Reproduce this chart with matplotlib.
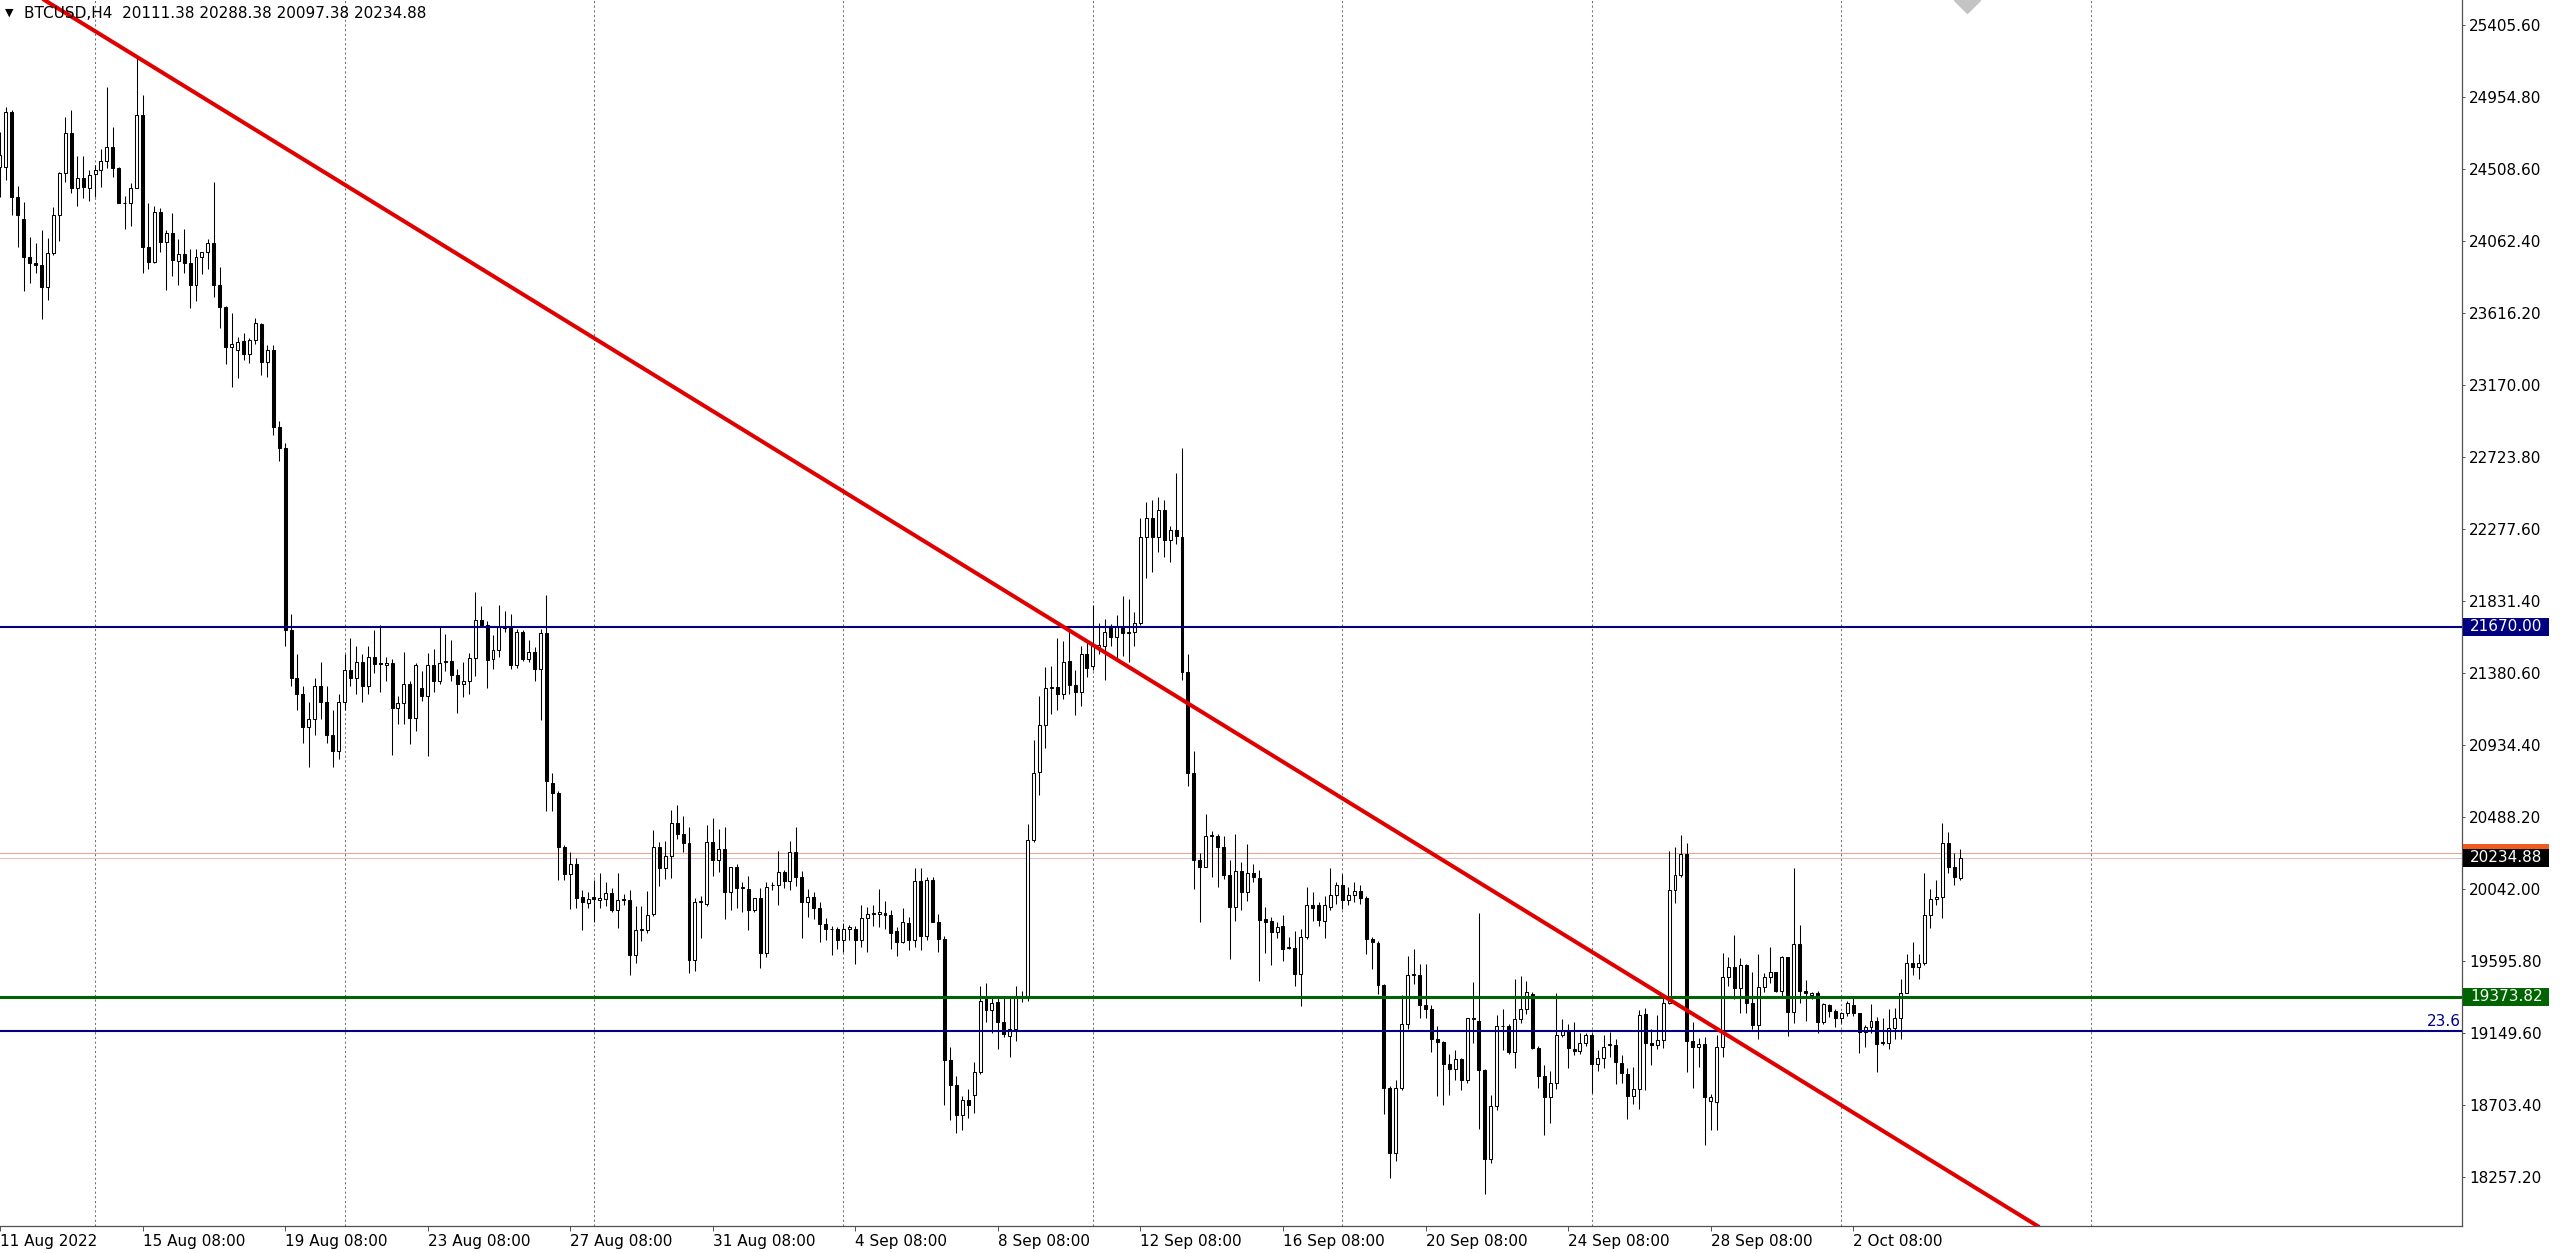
import numpy as np
import pandas as pd
import matplotlib
matplotlib.use("Agg")
import matplotlib.pyplot as plt
from matplotlib.patches import Rectangle
from matplotlib.transforms import blended_transform_factory

plt.rcParams['font.family'] = ['DejaVu Sans']

# --- data -------------------------------------------------------------
symbol = "BTCUSD,H4"
first_bar = "2022-08-11 08:00"   # H4 bars, one every 4 hours

opens = [
    24525, 24525, 24866, 24339, 24198, 23966, 23925, 23915, 23780, 23987,
    24225, 24488, 24731, 24394, 24452, 24394, 24479, 24504, 24560, 24649,
    24519, 24301, 24297, 24394, 24845, 24024, 23935, 24245, 24059, 24111,
    23941, 23983, 23925, 23790, 23966, 23995, 24053, 23790, 23652, 23404,
    23387, 23445, 23362, 23449, 23548, 23315, 23387, 22907, 22777, 21650,
    21350, 21250, 21050, 21100, 21300, 21200, 21000, 20900, 21200, 21400,
    21350, 21450, 21300, 21480, 21447, 21434, 21447, 21164, 21194, 21317,
    21103, 21287, 21243, 21434, 21331, 21451, 21459, 21370, 21312, 21331,
    21478, 21712, 21680, 21471, 21527, 21667, 21667, 21434, 21636, 21471,
    21513, 21410, 21631, 20703, 20637, 20301, 20134, 20195, 19992, 19957,
    19992, 19974, 19982, 20016, 19913, 19974, 19974, 19631, 19790, 19785,
    19888, 20305, 20171, 20244, 20453, 20384, 20325, 19599, 19962, 19950,
    20335, 20220, 20293, 20023, 20178, 20048, 20041, 19913, 19987, 19643,
    20065, 20065, 20146, 20089, 20269, 20115, 19959, 19992, 19927, 19823,
    19791, 19791, 19726, 19797, 19797, 19726, 19861, 19888, 19888, 19894,
    19878, 19781, 19716, 19830, 19726, 20089, 19748, 20096, 19836, 19732,
    18979, 18823, 18640, 18733, 18765, 18904, 19369, 19294, 19343, 19219,
    19132, 19174, 19369, 19369, 20349, 20771, 21063, 21290, 21296, 21251,
    21459, 21306, 21264, 21501, 21426, 21533, 21550, 21673, 21608, 21663,
    21631, 21640, 21696, 22225, 22345, 22225, 22394, 22205, 22270, 22225,
    21387, 20764, 20224, 20179, 20375, 20370, 20303, 20131, 19932, 20152,
    20025, 20144, 20110, 19853, 19845, 19773, 19813, 19675, 19675, 19516,
    19747, 19940, 19940, 19845, 19932, 20004, 20065, 19977, 20004, 20030,
    19985, 19733, 19707, 19447, 18805, 18407, 18810, 19203, 19508, 19508,
    19322, 19296, 19110, 19092, 18959, 18925, 18986, 18858, 19235, 19224,
    18917, 18368, 18694, 19190, 19190, 19031, 19235, 19296, 19389, 19057,
    18879, 18752, 18837, 19136, 19163, 19049, 19039, 19084, 19136, 18959,
    18992, 19074, 19074, 18961, 18894, 18758, 18799, 19267, 19085, 19074,
    19105, 19337, 20036, 20129, 20260, 19101, 19060, 19081, 18729, 18723,
    19064, 19494, 19556, 19426, 19571, 19337, 19198, 19432, 19494, 19529,
    19411, 19618, 19281, 19701, 19411, 19385, 19399, 19219, 19323, 19287,
    19240, 19271, 19323, 19271, 19157, 19184, 19225, 19085, 19085, 19178,
    19240, 19399, 19585, 19560, 19581, 19881, 19978, 19991, 20326, 20177, 20111.38,
]
highs = [
    24742, 24897, 24876, 24405, 24308, 24090, 24049, 24132, 24080, 24277,
    24494, 24835, 24876, 24591, 24591, 24504, 24535, 24632, 25021, 24773,
    24525, 24343, 24421, 25207, 24969, 24301, 24281, 24266, 24132, 24235,
    24074, 24136, 24012, 24012, 23995, 24074, 24432, 23900, 23660, 23619,
    23470, 23495, 23459, 23584, 23553, 23418, 23418, 22949, 22812, 21750,
    21500, 21300, 21200, 21350, 21450, 21300, 21150, 21250, 21500, 21600,
    21550, 21500, 21550, 21650, 21680, 21483, 21471, 21238, 21513, 21336,
    21447, 21398, 21508, 21532, 21667, 21626, 21586, 21410, 21454, 21508,
    21888, 21797, 21704, 21618, 21802, 21766, 21748, 21655, 21650, 21586,
    21545, 21655, 21864, 20760, 20649, 20318, 20269, 20232, 20036, 20023,
    20097, 20139, 20084, 20048, 20139, 20011, 20036, 19937, 19937, 20031,
    20409, 20335, 20342, 20531, 20563, 20497, 20428, 19987, 19999, 20441,
    20482, 20416, 20428, 20178, 20195, 20084, 20122, 19987, 20048, 20084,
    20084, 20281, 20158, 20342, 20428, 20154, 20040, 20024, 19959, 19861,
    19813, 19804, 19830, 19817, 19813, 19943, 19933, 19943, 20040, 19966,
    19911, 19804, 19927, 19868, 20170, 20170, 20115, 20115, 19888, 19748,
    19061, 18880, 18760, 18800, 18969, 19440, 19456, 19369, 19369, 19369,
    19369, 19440, 19408, 20446, 20966, 21241, 21420, 21426, 21598, 21582,
    21663, 21404, 21550, 21582, 21803, 21696, 21718, 21686, 21744, 21858,
    21842, 21761, 22345, 22442, 22458, 22475, 22458, 22296, 22621, 22776,
    21501, 20901, 20264, 20508, 20402, 20383, 20370, 20224, 20383, 20211,
    20322, 20197, 20158, 19932, 19866, 19839, 19879, 19747, 19781, 19792,
    20052, 20025, 19959, 19999, 20171, 20083, 20136, 20057, 20083, 20065,
    19999, 19747, 19720, 19455, 18818, 18858, 19383, 19627, 19667, 19574,
    19574, 19322, 19190, 19097, 19017, 19044, 18996, 19243, 19463, 19892,
    18925, 18765, 19261, 19296, 19203, 19481, 19500, 19473, 19402, 19070,
    18951, 18911, 19394, 19235, 19203, 19216, 19149, 19149, 19149, 19044,
    19136, 19157, 19110, 19012, 18930, 18940, 19292, 19302, 19172, 19261,
    19374, 20280, 20305, 20377, 20330, 19219, 19116, 19122, 18770, 19136,
    19647, 19622, 19757, 19612, 19577, 19529, 19639, 19523, 19685, 19529,
    19627, 19622, 20171, 19819, 19478, 19405, 19411, 19337, 19329, 19296,
    19281, 19350, 19374, 19275, 19198, 19329, 19250, 19240, 19296, 19302,
    19482, 19639, 19716, 19639, 20140, 20040, 20098, 20450, 20398, 20268, 20288.38,
]
lows = [
    24339, 24442, 24225, 24028, 23755, 23801, 23863, 23577, 23697, 23977,
    24066, 24432, 24359, 24281, 24328, 24314, 24339, 24401, 24514, 24463,
    24297, 24138, 24157, 24390, 23863, 23888, 23925, 23995, 23759, 23846,
    23790, 23867, 23646, 23693, 23859, 23892, 23714, 23521, 23300, 23160,
    23211, 23325, 23304, 23424, 23232, 23217, 22860, 22700, 21550, 21300,
    21150, 20950, 20800, 21000, 21100, 20950, 20800, 20850, 21150, 21300,
    21250, 21200, 21250, 21380, 21263, 21336, 20875, 21066, 21066, 20939,
    21022, 21209, 20870, 21267, 21312, 21398, 21336, 21132, 21231, 21250,
    21361, 21680, 21292, 21410, 21483, 21636, 21410, 21415, 21459, 21454,
    21336, 21091, 20526, 20526, 20097, 20097, 19918, 19925, 19790, 19925,
    19839, 19925, 19937, 19901, 19803, 19942, 19508, 19582, 19722, 19771,
    19876, 20060, 20104, 20109, 20355, 20269, 19520, 19533, 19741, 19937,
    20122, 20146, 19859, 19913, 19925, 19901, 19790, 19901, 19550, 19623,
    20036, 19942, 20048, 20036, 20060, 19739, 19868, 19855, 19716, 19726,
    19635, 19667, 19651, 19726, 19576, 19683, 19651, 19813, 19804, 19797,
    19667, 19628, 19706, 19661, 19683, 19661, 19726, 19836, 19651, 18700,
    18609, 18528, 18547, 18620, 18650, 18895, 19219, 19148, 19051, 19122,
    19002, 19099, 19343, 19349, 20333, 20625, 20917, 21128, 21154, 21219,
    21251, 21121, 21176, 21355, 21404, 21501, 21339, 21550, 21459, 21491,
    21452, 21550, 21679, 21972, 22011, 22134, 22101, 22069, 22182, 21339,
    20680, 20040, 19839, 20179, 20118, 20057, 20105, 19606, 19845, 19914,
    19967, 20083, 19473, 19648, 19569, 19739, 19595, 19667, 19442, 19314,
    19733, 19845, 19813, 19739, 19914, 19951, 19919, 19945, 19959, 19951,
    19640, 19548, 19389, 18646, 18248, 18354, 18792, 19176, 19455, 19243,
    19243, 19031, 18757, 18704, 18765, 18858, 18792, 18837, 19084, 18553,
    18150, 18341, 18672, 19044, 19017, 18933, 19208, 19269, 19049, 18805,
    18513, 18593, 18800, 19123, 18933, 19012, 19017, 19065, 18779, 18911,
    18930, 19002, 18832, 18836, 18613, 18708, 18675, 18795, 18950, 19047,
    19054, 19329, 19953, 20115, 18909, 18805, 18940, 18454, 18547, 18547,
    18998, 19440, 19358, 19271, 19271, 19172, 19110, 19405, 19461, 19405,
    19378, 19130, 19213, 19337, 19225, 19358, 19151, 19205, 19250, 19184,
    19213, 19254, 19254, 19023, 19064, 19147, 18909, 19074, 19047, 19110,
    19110, 19395, 19509, 19482, 19571, 19798, 19943, 19860, 20140, 20067, 20097.38,
]
closes = [
    24600, 24866, 24339, 24225, 23966, 23925, 23915, 23780, 23987, 24225,
    24483, 24731, 24394, 24452, 24397, 24473, 24504, 24560, 24649, 24519,
    24297, 24297, 24394, 24845, 24028, 23935, 24245, 24059, 24111, 23946,
    23983, 23925, 23790, 23962, 23995, 24053, 23790, 23652, 23408, 23424,
    23439, 23362, 23449, 23553, 23315, 23387, 22911, 22777, 21650, 21350,
    21250, 21050, 21100, 21300, 21200, 21000, 20900, 21200, 21400, 21350,
    21450, 21300, 21480, 21440, 21439, 21447, 21164, 21194, 21317, 21103,
    21434, 21243, 21434, 21331, 21447, 21454, 21370, 21312, 21331, 21478,
    21712, 21680, 21464, 21527, 21667, 21660, 21434, 21636, 21471, 21513,
    21410, 21631, 20710, 20637, 20301, 20134, 20195, 19987, 19962, 19982,
    19979, 19987, 20016, 19913, 19974, 19974, 19631, 19790, 19790, 19883,
    20305, 20171, 20244, 20453, 20384, 20325, 19599, 19962, 19962, 20335,
    20220, 20293, 20023, 20178, 20048, 20048, 19913, 19987, 19648, 20055,
    20065, 20146, 20089, 20269, 20114, 19959, 19992, 19927, 19823, 19797,
    19791, 19726, 19797, 19804, 19726, 19861, 19888, 19888, 19901, 19878,
    19771, 19716, 19836, 19726, 20089, 19748, 20096, 19836, 19732, 18980,
    18823, 18640, 18733, 18700, 18904, 19349, 19294, 19336, 19219, 19141,
    19174, 19369, 19375, 20349, 20764, 21063, 21290, 21296, 21251, 21452,
    21306, 21264, 21501, 21413, 21550, 21556, 21640, 21608, 21673, 21631,
    21631, 21696, 22225, 22345, 22225, 22394, 22205, 22270, 22231, 21387,
    20764, 20224, 20179, 20370, 20370, 20303, 20131, 19932, 20152, 20025,
    20144, 20118, 19853, 19839, 19773, 19808, 19667, 19675, 19516, 19747,
    19940, 19924, 19853, 19940, 20004, 20065, 19977, 20004, 20030, 19985,
    19733, 19712, 19447, 18805, 18407, 18810, 19203, 19508, 19508, 19322,
    19296, 19110, 19092, 18959, 18925, 18986, 18858, 19243, 19235, 18917,
    18368, 18694, 19190, 19190, 19031, 19235, 19296, 19402, 19057, 18879,
    18752, 18837, 19136, 19163, 19057, 19039, 19084, 19136, 18959, 18996,
    19064, 19074, 18971, 18899, 18758, 18799, 19261, 19085, 19074, 19105,
    19337, 20036, 20129, 20260, 19101, 19060, 19081, 18750, 18750, 19064,
    19494, 19560, 19426, 19571, 19337, 19198, 19432, 19494, 19529, 19411,
    19618, 19281, 19701, 19411, 19395, 19399, 19219, 19329, 19287, 19240,
    19271, 19337, 19271, 19157, 19184, 19225, 19081, 19085, 19178, 19240,
    19399, 19585, 19560, 19581, 19881, 19978, 19991, 20326, 20177, 20115, 20234.88,
]

price_ticks = [25405.60, 24954.80, 24508.60, 24062.40, 23616.20, 23170.00,
               22723.80, 22277.60, 21831.40, 21380.60, 20934.40, 20488.20,
               20042.00, 19595.80, 19149.60, 18703.40, 18257.20]

resistance = 21670.00
support = 19373.82
fib_236 = 19164.0
bid = 20234.88
ask = 20265.0
# trend line through two bar/price anchors
trend_a = (23, 25207)
trend_b = (325, 18360)

n = len(opens)
assert n == len(highs) == len(lows) == len(closes)

t0 = pd.Timestamp(first_bar)


def bar_pos(ts):
    return (pd.Timestamp(ts) - t0) / pd.Timedelta(hours=4)


label_times = pd.date_range("2022-08-15 08:00", "2022-10-02 08:00", freq="4D")
date_pos = [0] + [bar_pos(d) for d in label_times]
date_text = ["11 Aug 2022"] + [f"{d.day} {d:%b %H:%M}" for d in label_times]
week_lines = pd.date_range("2022-08-14", "2022-10-09", freq="7D")

# --- figure -----------------------------------------------------------
W, H = 2560, 1253
fig = plt.figure(figsize=(W / 100, H / 100), dpi=100)
ax = fig.add_axes([0, 27 / H, 2462 / W, 1226 / H])
ax.set_xlim(0, 414.5)
ax.set_ylim(17951, 25559)

for s in ["left", "top"]:
    ax.spines[s].set_visible(False)
for s in ["right", "bottom"]:
    ax.spines[s].set_color("#505050")
    ax.spines[s].set_linewidth(0.9)

for d in week_lines:
    ax.axvline(bar_pos(d), color="#707070", lw=0.75, ls=(0, (2, 2.5)), zorder=0)

x = np.arange(n)
o = np.array(opens, float)
h = np.array(highs, float)
l = np.array(lows, float)
c = np.array(closes, float)
up = c >= o

ax.vlines(x, l, h, color="black", lw=0.75, zorder=2)
body_lo = np.minimum(o, c)
body_h = np.maximum(np.abs(c - o), 5)
ax.bar(x[up], body_h[up], bottom=body_lo[up], width=0.5, color="white",
       edgecolor="black", linewidth=0.75, zorder=3)
ax.bar(x[~up], body_h[~up], bottom=body_lo[~up], width=0.5, color="black",
       edgecolor="black", linewidth=0.75, zorder=3)

# levels and trend line
ax.axhline(ask, color="#f2a090", lw=0.75, zorder=1)
ax.axhline(bid, color="#d8c4c0", lw=0.75, zorder=1)
ax.axhline(resistance, color="#000080", lw=1.5, zorder=4)
ax.axhline(support, color="#006400", lw=2.2, zorder=4)
ax.axhline(fib_236, color="#000080", lw=1.5, zorder=4)
ax.text(414.3, fib_236 + 12, "23.6", color="#000080", fontsize=11,
        ha="right", va="bottom", zorder=5)
ax.axline(trend_a, trend_b, color="#e00000", lw=2.9, zorder=5)
ax.plot([331.1], [25561], marker="D", ms=13, color="#c4c4c4", zorder=5)

# axes ticks
ax.yaxis.tick_right()
ax.set_yticks(price_ticks, [f"{p:.2f}" for p in price_ticks])
ax.tick_params(axis="y", direction="out", length=2.2, width=0.7, pad=3,
               labelsize=11, colors="#505050", labelcolor="black")
ax.set_xticks(date_pos, date_text)
ax.tick_params(axis="x", direction="out", length=3.5, width=0.7, pad=2,
               labelsize=11, colors="#505050", labelcolor="black")
for lab in ax.get_xticklabels():
    lab.set_ha("left")

# price labels on the scale
tr = blended_transform_factory(fig.transFigure, ax.transData)
box_h = 18 * (25559 - 17951) / 1226


def scale_label(price, bg, text=None):
    ax.add_patch(Rectangle((2463 / W, price - box_h / 2), 86 / W, box_h,
                           transform=tr, facecolor=bg, edgecolor="none",
                           clip_on=False, zorder=10))
    if text:
        ax.text(2470 / W, price, text, transform=tr, color="white",
                fontsize=11, va="center", ha="left", clip_on=False, zorder=11)


scale_label(ask, "#f05a20")
scale_label(bid, "black", f"{bid:.2f}")
scale_label(resistance, "#000080", f"{resistance:.2f}")
scale_label(support, "#006400", f"{support:.2f}")

# header
last = (opens[-1], highs[-1], lows[-1], closes[-1])
fig.text(5 / W, 1 - 13 / H, "\u25bc", fontsize=8, va="center", ha="left")
fig.text(24 / W, 1 - 13 / H,
         f"{symbol}  " + " ".join(f"{v:.2f}" for v in last),
         fontsize=11, va="center", ha="left")

fig.savefig("out.png", dpi=100)
